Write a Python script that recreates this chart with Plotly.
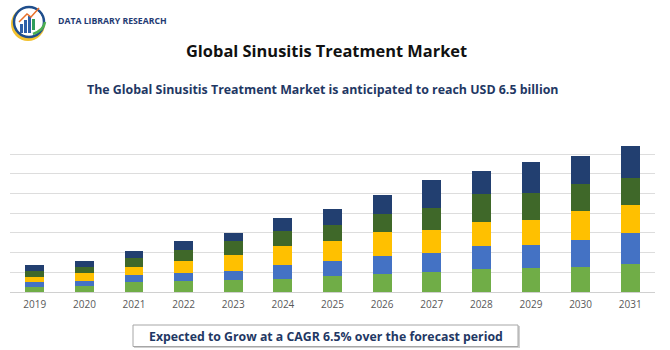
import plotly.graph_objects as go

years = ["2019", "2020", "2021", "2022", "2023", "2024", "2025",
         "2026", "2027", "2028", "2029", "2030", "2031"]

seg_green = [0.24, 0.29, 0.49, 0.56, 0.62, 0.68, 0.79, 0.89, 1.00, 1.18, 1.22, 1.28, 1.40]
seg_blue = [0.29, 0.29, 0.37, 0.41, 0.44, 0.69, 0.78, 0.95, 0.98, 1.16, 1.18, 1.38, 1.57]
seg_yellow = [0.22, 0.39, 0.41, 0.62, 0.83, 0.98, 1.01, 1.22, 1.15, 1.23, 1.27, 1.45, 1.43]
seg_darkgreen = [0.30, 0.29, 0.47, 0.52, 0.68, 0.73, 0.83, 0.88, 1.15, 1.38, 1.38, 1.38, 1.40]
seg_navy = [0.30, 0.29, 0.35, 0.46, 0.42, 0.68, 0.78, 0.96, 1.43, 1.18, 1.55, 1.43, 1.60]

series = [
    ("Segment 1", seg_green, "#70AD47"),
    ("Segment 2", seg_blue, "#4472C4"),
    ("Segment 3", seg_yellow, "#FFC000"),
    ("Segment 4", seg_darkgreen, "#3F6829"),
    ("Segment 5", seg_navy, "#223F70"),
]

fig = go.Figure()
for name, vals, col in series:
    fig.add_trace(go.Bar(x=years, y=vals, name=name, marker_color=col,
                         marker_line_width=0))

W, H = 670, 350
ml, mr, mt, mb = 10, 15, 134, 58
pw = W - ml - mr
ph = H - mt - mb


def px(x):
    return (x - ml) / pw


def py(y):
    return (H - mb - y) / ph


navy_txt = "#1F3864"

annotations = [
    dict(text="<b>Global Sinusitis Treatment Market</b>", x=px(326), y=py(50),
         xref="paper", yref="paper", showarrow=False, xanchor="center", yanchor="middle",
         font=dict(family="Open Sans", size=16.4, color="#111111")),
    dict(text="<b>The Global Sinusitis Treatment Market is anticipated to reach USD 6.5 billion</b>",
         x=px(322.5), y=py(89), xref="paper", yref="paper", showarrow=False,
         xanchor="center", yanchor="middle",
         font=dict(family="Open Sans", size=12.4, color=navy_txt)),
    dict(text="<b>Expected to Grow at a CAGR 6.5% over the forecast period</b>",
         x=px(326), y=py(336), xref="paper", yref="paper", showarrow=False,
         xanchor="center", yanchor="middle",
         font=dict(family="Open Sans", size=12.3, color=navy_txt)),
    dict(text="<b>DATA LIBRARY RESEARCH</b>", x=px(56), y=py(21), xref="paper", yref="paper",
         showarrow=False, xanchor="left", yanchor="middle",
         font=dict(family="Liberation Sans Narrow, Arial Narrow, Open Sans", size=8.7,
                   color="#1F3B73")),
]

shapes = [
    # bottom box shadow + box
    dict(type="rect", xref="paper", yref="paper", x0=px(134), x1=px(520), y0=py(326), y1=py(348),
         line=dict(width=0), fillcolor="#D0D0D0", layer="below"),
    dict(type="rect", xref="paper", yref="paper", x0=px(133), x1=px(518), y0=py(325), y1=py(346.5),
         line=dict(width=1, color="#A6A6A6"), fillcolor="white", layer="below"),
]


def circ(cx, cy, r, **kw):
    d = dict(type="circle", xref="paper", yref="paper", xsizemode="pixel", ysizemode="pixel",
             xanchor=px(cx), yanchor=py(cy), x0=-r, x1=r, y0=-r, y1=r)
    d.update(kw)
    return d


def prect(x0, y0, x1, y1, col):
    return dict(type="rect", xref="paper", yref="paper", x0=px(x0), x1=px(x1),
                y0=py(y1), y1=py(y0), line=dict(width=0), fillcolor=col)


shapes += [
    circ(28, 24, 17, fillcolor="#F2C12E", line=dict(width=0)),
    circ(29.5, 22, 15.5, fillcolor="white", line=dict(width=0)),
    circ(29, 22, 15, fillcolor="rgba(0,0,0,0)", line=dict(width=2.5, color="#1F4E8C")),
    circ(30, 21, 12, fillcolor="white", line=dict(width=0)),
    prect(20, 24, 23, 33, "#2F5FA8"),
    prect(24, 20, 27, 33, "#2F5FA8"),
    prect(28, 16, 31, 33, "#2F5FA8"),
    prect(32, 19, 35, 30, "#2F9E5B"),
    dict(type="path", xref="paper", yref="paper",
         path="M %f,%f L %f,%f L %f,%f L %f,%f" % (px(19), py(22), px(27), py(14), px(31), py(17),
                                                   px(39), py(8)),
         line=dict(color="#E8702A", width=1.5)),
    dict(type="path", xref="paper", yref="paper",
         path="M %f,%f Q %f,%f %f,%f" % (px(33), py(34), px(44), py(30), px(45), py(22)),
         line=dict(color="#4CAF50", width=2.5)),
]

fig.update_layout(
    width=W, height=H,
    margin=dict(l=ml, r=mr, t=mt, b=mb),
    barmode="stack", bargap=0.62,
    showlegend=False,
    plot_bgcolor="white", paper_bgcolor="white",
    xaxis=dict(type="category", range=[-0.5, 12.5], showgrid=False, showline=False,
               ticks="", ticklabelstandoff=5,
               tickfont=dict(family="Open Sans", size=10, color="#595959")),
    yaxis=dict(range=[0, 8.02], dtick=1, showgrid=True, gridcolor="#DDDDDD", gridwidth=1,
               zeroline=True, zerolinecolor="#D0D0D0", zerolinewidth=1,
               showticklabels=False, ticks=""),
    annotations=annotations,
    shapes=shapes,
)

fig.write_html("out.html")
